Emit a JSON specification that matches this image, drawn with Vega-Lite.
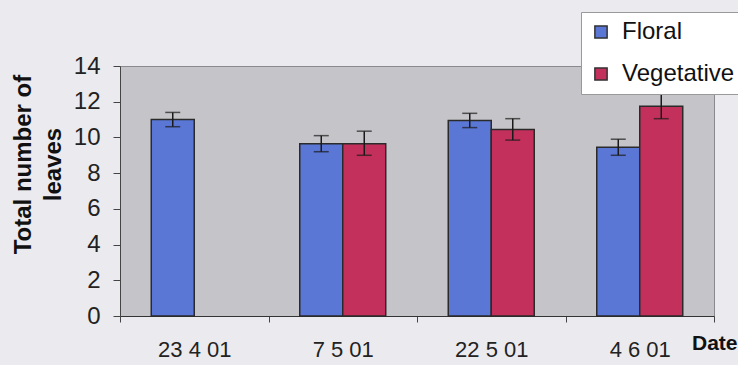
{
  "$schema": "https://vega.github.io/schema/vega-lite/v6.json",
  "width": 594,
  "height": 250,
  "autosize": {"type": "none"},
  "padding": {"left": 120, "top": 66, "right": 24, "bottom": 49},
  "background": "#ebebef",
  "config": {
    "view": {"fill": "#c5c5c9", "stroke": "#8a8a8e", "strokeWidth": 1},
    "font": "Liberation Sans",
    "axisY": {
      "titleX": -97,
      "titleY": 98,
      "titleAngle": -90,
      "titleAlign": "center",
      "titleBaseline": "middle",
      "titleFontSize": 24,
      "titleFontWeight": "bold",
      "titleLineHeight": 30,
      "titleColor": "#111",
      "tickCount": 8,
      "labelOverlap": false,
      "labelFlush": false,
      "labelFontSize": 24,
      "labelColor": "#222",
      "labelPadding": 13,
      "tickSize": 7,
      "tickColor": "#444",
      "domainColor": "#444",
      "grid": false
    }
  },
  "data": {
    "values": [
      {"date": "23 4 01", "type": "Floral", "mean": 11.0, "lo": 10.6, "hi": 11.4},
      {"date": "7 5 01", "type": "Floral", "mean": 9.65, "lo": 9.2, "hi": 10.1},
      {"date": "7 5 01", "type": "Vegetative", "mean": 9.65, "lo": 9.0, "hi": 10.35},
      {"date": "22 5 01", "type": "Floral", "mean": 10.95, "lo": 10.55, "hi": 11.35},
      {"date": "22 5 01", "type": "Vegetative", "mean": 10.45, "lo": 9.85, "hi": 11.05},
      {"date": "4 6 01", "type": "Floral", "mean": 9.45, "lo": 9.0, "hi": 9.9},
      {"date": "4 6 01", "type": "Vegetative", "mean": 11.75, "lo": 11.05, "hi": 12.45}
    ]
  },
  "encoding": {
    "x": {
      "field": "date",
      "type": "nominal",
      "sort": ["23 4 01", "7 5 01", "22 5 01", "4 6 01"],
      "scale": {"paddingInner": 0, "paddingOuter": 0},
      "axis": {
        "title": "Date",
        "titleX": 617,
        "titleY": 27,
        "titleAlign": "right",
        "titleBaseline": "middle",
        "titleFontSize": 21,
        "titleFontWeight": "bold",
        "titleColor": "#111",
        "labelAngle": 0,
        "labelFontSize": 22,
        "labelColor": "#222",
        "labelPadding": 17,
        "labelOverlap": false,
        "tickBand": "extent",
        "tickSize": 6,
        "tickColor": "#444",
        "domainColor": "#333"
      }
    },
    "xOffset": {
      "field": "type",
      "type": "nominal",
      "scale": {"domain": ["Floral", "Vegetative"], "paddingInner": 0, "paddingOuter": 0.727}
    }
  },
  "layer": [
    {
      "mark": {"type": "bar", "stroke": "#2a2a2a", "strokeWidth": 1.5},
      "encoding": {
        "y": {
          "field": "mean",
          "type": "quantitative",
          "title": ["Total number of", "leaves"],
          "scale": {"domain": [0, 14], "nice": false},
          "axis": {"values": [0, 2, 4, 6, 8, 10, 12, 14]}
        },
        "color": {
          "field": "type",
          "type": "nominal",
          "scale": {"domain": ["Floral", "Vegetative"], "range": ["#5a77d6", "#c4305c"]},
          "legend": {
            "title": null,
            "orient": "none",
            "legendX": 461,
            "legendY": -54,
            "fillColor": "#ffffff",
            "strokeColor": "#999999",
            "padding": 8,
            "labelFontSize": 24,
            "labelColor": "#111",
            "labelOffset": 9,
            "symbolType": "square",
            "symbolSize": 150,
            "symbolStrokeColor": "#333",
            "symbolStrokeWidth": 1.5,
            "rowPadding": 18
          }
        }
      }
    },
    {
      "mark": {"type": "rule", "color": "#1a1a1a", "strokeWidth": 1.5},
      "encoding": {
        "y": {"field": "lo", "type": "quantitative", "title": ["Total number of", "leaves"], "axis": {"values": [0, 2, 4, 6, 8, 10, 12, 14]}},
        "y2": {"field": "hi"}
      }
    },
    {
      "mark": {"type": "tick", "color": "#1a1a1a", "thickness": 1.5, "size": 15},
      "encoding": {"y": {"field": "lo", "type": "quantitative", "title": ["Total number of", "leaves"], "axis": {"values": [0, 2, 4, 6, 8, 10, 12, 14]}}}
    },
    {
      "mark": {"type": "tick", "color": "#1a1a1a", "thickness": 1.5, "size": 15},
      "encoding": {"y": {"field": "hi", "type": "quantitative", "title": ["Total number of", "leaves"], "axis": {"values": [0, 2, 4, 6, 8, 10, 12, 14]}}}
    }
  ]
}
